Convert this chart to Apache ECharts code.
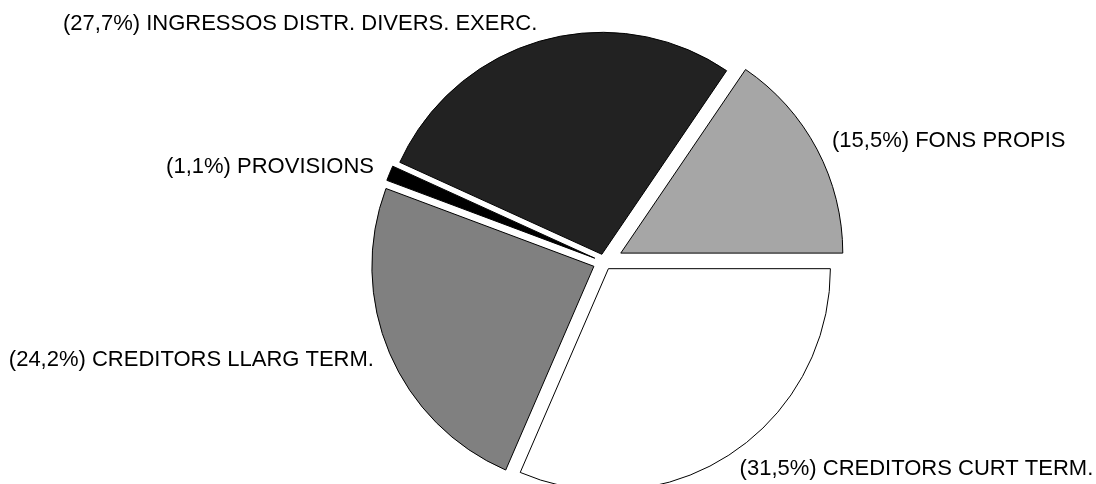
<!DOCTYPE html>
<html><head><meta charset="utf-8">
<script src="https://cdn.jsdelivr.net/npm/echarts@6/dist/echarts.min.js"></script>
<style>html,body{margin:0;padding:0;background:#fff}#c{width:1096px;height:484px}</style>
</head><body><div id="c"></div>
<script>
const categories = ['FONS PROPIS', 'INGRESSOS DISTR. DIVERS. EXERC.', 'PROVISIONS', 'CREDITORS LLARG TERM.', 'CREDITORS CURT TERM.'];
const shares = [15.5, 27.7, 1.1, 24.2, 31.5];
const sliceColors = ['#a6a6a6', '#222222', '#000000', '#808080', '#ffffff'];
const explode = [19, 8, 10, 11, 8];

function fmt(v) { return '(' + v.toFixed(1).replace('.', ',') + '%) '; }

const chart = echarts.init(document.getElementById('c'), null, { renderer: 'canvas' });
const series = categories.map(function (name, i) {
  return {
    type: 'pie',
    center: [604, 262],
    radius: 222,
    startAngle: 0,
    clockwise: false,
    silent: true,
    animation: false,
    avoidLabelOverlap: false,
    selectedMode: 'multiple',
    selectedOffset: explode[i],
    emphasis: { disabled: true },
    labelLine: { show: false, length: 17, length2: 0 },
    label: {
      show: true, position: 'outside', distanceToLabelLine: 0,
      color: '#000', fontFamily: 'Liberation Sans, Arial, sans-serif', fontSize: 22,
      formatter: function (p) { return fmt(p.value) + p.name; }
    },
    data: categories.map(function (n, j) {
      if (j === i) {
        return {
          name: n, value: shares[j], selected: true,
          itemStyle: { color: sliceColors[j], borderColor: '#000', borderWidth: 1 },
          select: { itemStyle: { color: sliceColors[j], borderColor: '#000', borderWidth: 1 } }
        };
      }
      return {
        name: n, value: shares[j],
        itemStyle: { color: 'rgba(0,0,0,0)', borderWidth: 0 },
        select: { itemStyle: { color: 'rgba(0,0,0,0)', borderWidth: 0 } },
        label: { show: false }
      };
    })
  };
});
chart.setOption({ backgroundColor: '#fff', series: series });
</script>
</body></html>
